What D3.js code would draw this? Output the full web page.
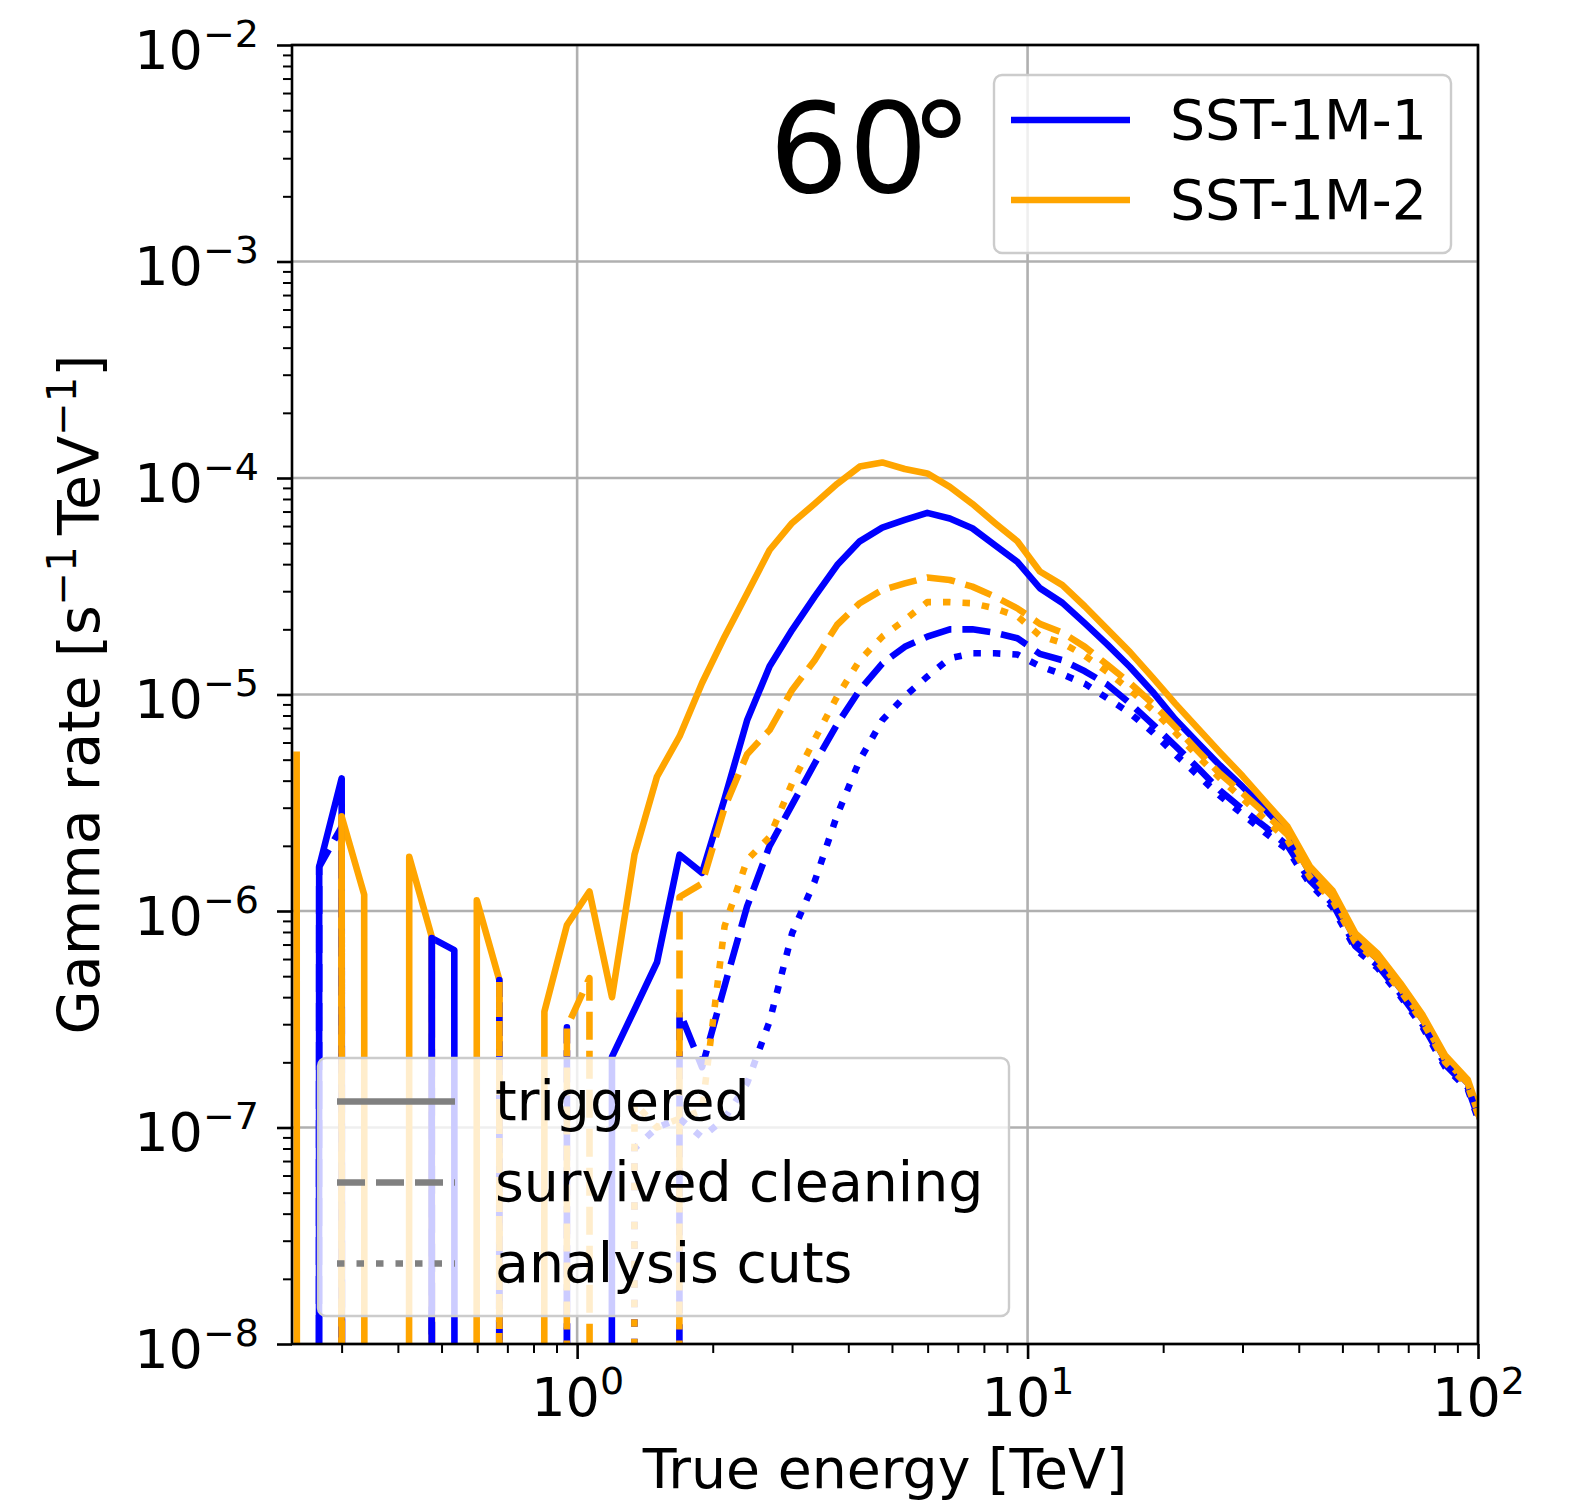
<!DOCTYPE html>
<html>
<head>
<meta charset="utf-8">
<script src="https://cdn.jsdelivr.net/npm/d3@7"></script>
<style>
  body { margin: 0; background: #fff; }
  svg { display: block; }
  text { font-family: "DejaVu Sans", sans-serif; fill: #000; }
</style>
</head>
<body>
<svg id="chart"></svg>
<script>
// bin energies [TeV]
const energy = [
  0.2384, 0.2675, 0.3001, 0.3367, 0.3778, 0.4239, 0.4757, 0.5337, 0.5988, 0.6719,
  0.7539, 0.8459, 0.9491, 1.0649, 1.1949, 1.3407, 1.5043, 1.6878, 1.8938, 2.1249,
  2.3842, 2.6751, 3.0016, 3.3678, 3.7788, 4.2399, 4.7573, 5.3378, 5.9891, 6.7199,
  7.5399, 8.4600, 9.4923, 10.649, 11.949, 13.407, 15.043, 16.878, 18.938, 21.249,
  23.842, 26.751, 30.016, 33.678, 37.788, 42.399, 47.573, 53.378, 59.891, 67.199,
  75.399, 84.600, 94.923, 106.49
];

// gamma rate [s^-1 TeV^-1], 0 = empty bin
const sst1Triggered = [
  0, 1.6e-6, 4.1e-6, 0, 0, 0, 7.5e-7, 6.6e-7, 0, 0,
  0, 0, 0, 0, 2.12e-7, 3.5e-7, 5.8e-7, 1.82e-6, 1.5e-6, 3.3e-6,
  7.6e-6, 1.35e-5, 1.99e-5, 2.83e-5, 3.96e-5, 5.1e-5, 5.9e-5, 6.4e-5, 6.9e-5, 6.5e-5,
  5.86e-5, 4.9e-5, 4.1e-5, 3.1e-5, 2.65e-5, 2.13e-5, 1.7e-5, 1.34e-5, 1.03e-5, 7.7e-6,
  6.0e-6, 4.7e-6, 3.75e-6, 2.95e-6, 2.28e-6, 1.5e-6, 1.17e-6, 7.4e-7, 6.0e-7, 4.4e-7,
  3.15e-7, 2.05e-7, 1.6e-7, 8.0e-8
];
const sst2Triggered = [
  5.45e-6, 0, 2.73e-6, 1.19e-6, 0, 1.78e-6, 7.6e-7, 0, 1.12e-6, 4.8e-7,
  0, 3.43e-7, 8.6e-7, 1.23e-6, 4.0e-7, 1.82e-6, 4.18e-6, 6.4e-6, 1.13e-5, 1.85e-5,
  2.93e-5, 4.65e-5, 6.2e-5, 7.6e-5, 9.4e-5, 1.13e-4, 1.18e-4, 1.1e-4, 1.05e-4, 9.1e-5,
  7.6e-5, 6.2e-5, 5.1e-5, 3.7e-5, 3.2e-5, 2.55e-5, 2.0e-5, 1.57e-5, 1.2e-5, 9.1e-6,
  7.0e-6, 5.4e-6, 4.2e-6, 3.2e-6, 2.45e-6, 1.6e-6, 1.24e-6, 7.9e-7, 6.35e-7, 4.65e-7,
  3.3e-7, 2.15e-7, 1.66e-7, 8.3e-8
];
const sst1Cleaned = [
  0, 1.6e-6, 2.45e-6, 0, 0, 0, 7.5e-7, 0, 0, 4.8e-7,
  0, 0, 2.9e-7, 0, 0, 0, 0, 3.43e-7, 1.9e-7, 4.5e-7,
  1.05e-6, 2.0e-6, 3.1e-6, 4.8e-6, 7.3e-6, 1.05e-5, 1.39e-5, 1.66e-5, 1.85e-5, 2.0e-5,
  2.0e-5, 1.93e-5, 1.82e-5, 1.54e-5, 1.44e-5, 1.28e-5, 1.11e-5, 9.1e-6, 7.3e-6, 5.8e-6,
  4.6e-6, 3.6e-6, 2.95e-6, 2.45e-6, 2.0e-6, 1.38e-6, 1.08e-6, 6.9e-7, 5.6e-7, 4.15e-7,
  2.98e-7, 1.95e-7, 1.53e-7, 7.7e-8
];
const sst2Cleaned = [
  0, 0, 2.73e-6, 0, 0, 0, 0, 0, 0, 4.8e-7,
  0, 0, 2.9e-7, 4.9e-7, 0, 0, 0, 1.16e-6, 1.34e-6, 3.0e-6,
  5.3e-6, 6.85e-6, 1.05e-5, 1.44e-5, 2.1e-5, 2.64e-5, 3.04e-5, 3.26e-5, 3.47e-5, 3.38e-5,
  3.15e-5, 2.83e-5, 2.5e-5, 2.12e-5, 1.93e-5, 1.66e-5, 1.37e-5, 1.13e-5, 9.1e-6, 7.1e-6,
  5.5e-6, 4.3e-6, 3.5e-6, 2.82e-6, 2.25e-6, 1.5e-6, 1.16e-6, 7.4e-7, 6.0e-7, 4.4e-7,
  3.15e-7, 2.05e-7, 1.6e-7, 8.0e-8
];
const sst1Cuts = [
  0, 0, 0, 0, 0, 0, 0, 0, 0, 0,
  0, 0, 0, 0, 0, 8.0e-8, 1.0e-7, 1.1e-7, 9.0e-8, 1.1e-7,
  1.6e-7, 3.1e-7, 7.9e-7, 1.37e-6, 2.78e-6, 4.98e-6, 7.6e-6, 9.8e-6, 1.21e-5, 1.47e-5,
  1.55e-5, 1.55e-5, 1.53e-5, 1.35e-5, 1.24e-5, 1.12e-5, 9.6e-6, 8.2e-6, 6.7e-6, 5.3e-6,
  4.25e-6, 3.4e-6, 2.8e-6, 2.3e-6, 1.92e-6, 1.33e-6, 1.04e-6, 6.7e-7, 5.45e-7, 4.05e-7,
  2.9e-7, 1.9e-7, 1.5e-7, 7.5e-8
];
const sst2Cuts = [
  0, 0, 0, 0, 0, 0, 0, 0, 0, 0,
  0, 0, 0, 0, 0, 1.3e-7, 1.0e-7, 1.1e-7, 1.2e-7, 8.5e-7,
  1.72e-6, 2.2e-6, 3.9e-6, 6.2e-6, 9.8e-6, 1.44e-5, 1.85e-5, 2.21e-5, 2.67e-5, 2.67e-5,
  2.64e-5, 2.5e-5, 2.3e-5, 1.87e-5, 1.73e-5, 1.51e-5, 1.27e-5, 1.05e-5, 8.5e-6, 6.7e-6,
  5.2e-6, 4.1e-6, 3.3e-6, 2.65e-6, 2.12e-6, 1.43e-6, 1.12e-6, 7.2e-7, 5.8e-7, 4.3e-7,
  3.07e-7, 2.0e-7, 1.56e-7, 7.9e-8
];

const telescopes = ["SST-1M-1", "SST-1M-2"];
const stages = ["triggered", "survived cleaning", "analysis cuts"];

const xTicks = [1, 10, 100];
const xTickExp = ["0", "1", "2"];
const yTicks = [1e-8, 1e-7, 1e-6, 1e-5, 1e-4, 1e-3, 1e-2];
const yTickExp = ["\u22128", "\u22127", "\u22126", "\u22125", "\u22124", "\u22123", "\u22122"];

const BLUE = "#0000ff";
const ORANGE = "#ffa500";
const LW = 6.6;
const DASHED = "28,11";
const DOTTED = "7.5,12";

const size = { width: 1584, height: 1507 };
const margin = { top: 45, right: 106, bottom: 163, left: 292 };
const plot = {
  x0: margin.left,
  x1: size.width - margin.right,
  y0: margin.top,
  y1: size.height - margin.bottom
};

const svg = d3
  .select("#chart")
  .attr("width", size.width)
  .attr("height", size.height);

const x = d3
  .scaleLog()
  .domain([0.2328, 100])
  .range([plot.x0, plot.x1]);

const y = d3
  .scaleLog()
  .domain([1e-8, 1e-2])
  .range([plot.y1, plot.y0]);

// minor ticks 2..9 per decade
const xMinor = [];
for (let d = -1; d <= 1; d++) {
  for (let m = 2; m <= 9; m++) {
    const v = m * Math.pow(10, d);
    if (v > 0.2328 && v < 100) xMinor.push(v);
  }
}
const yMinor = [];
for (let d = -8; d <= -3; d++) {
  for (let m = 2; m <= 9; m++) yMinor.push(m * Math.pow(10, d));
}

// grid
const grid = svg.append("g").attr("stroke", "#b0b0b0").attr("stroke-width", 2.6);
xTicks.forEach((v) => {
  grid.append("line")
    .attr("x1", x(v)).attr("x2", x(v))
    .attr("y1", plot.y0).attr("y2", plot.y1);
});
yTicks.forEach((v) => {
  grid.append("line")
    .attr("x1", plot.x0).attr("x2", plot.x1)
    .attr("y1", y(v)).attr("y2", y(v));
});

svg.append("clipPath")
  .attr("id", "plotClip")
  .append("rect")
  .attr("x", plot.x0)
  .attr("y", plot.y0)
  .attr("width", plot.x1 - plot.x0)
  .attr("height", plot.y1 - plot.y0);

const series = [
  { values: sst1Triggered, color: BLUE, dash: null },
  { values: sst2Triggered, color: ORANGE, dash: null },
  { values: sst1Cleaned, color: BLUE, dash: DASHED },
  { values: sst2Cleaned, color: ORANGE, dash: DASHED },
  { values: sst1Cuts, color: BLUE, dash: DOTTED },
  { values: sst2Cuts, color: ORANGE, dash: DOTTED }
];

// empty bins drop off the log axis like matplotlib's clip
const line = d3
  .line()
  .x((d) => x(d.e))
  .y((d) => y(d.v > 0 ? d.v : 1e-300));

const lines = svg.append("g").attr("clip-path", "url(#plotClip)");
series.forEach((s) => {
  const pts = energy.map((e, i) => ({ e: e, v: s.values[i] }));
  lines.append("path")
    .datum(pts)
    .attr("fill", "none")
    .attr("stroke", s.color)
    .attr("stroke-width", LW)
    .attr("stroke-linejoin", "round")
    .attr("stroke-linecap", "butt")
    .attr("stroke-dasharray", s.dash)
    .attr("d", line);
});

// axes
const xAxis = svg.append("g")
  .attr("transform", `translate(0, ${plot.y1})`)
  .call(d3.axisBottom(x).tickValues(xTicks).tickSize(15).tickPadding(14));
svg.append("g")
  .attr("transform", `translate(0, ${plot.y1})`)
  .call(d3.axisBottom(x).tickValues(xMinor).tickSize(9).tickFormat(""))
  .call((g) => g.selectAll("line").attr("stroke-width", 2));

const yAxis = svg.append("g")
  .attr("transform", `translate(${plot.x0}, 0)`)
  .call(d3.axisLeft(y).tickValues(yTicks).tickSize(15).tickPadding(14));
svg.append("g")
  .attr("transform", `translate(${plot.x0}, 0)`)
  .call(d3.axisLeft(y).tickValues(yMinor).tickSize(9).tickFormat(""))
  .call((g) => g.selectAll("line").attr("stroke-width", 2));

svg.selectAll(".domain").remove();
svg.selectAll(".tick line").attr("stroke", "#000");
xAxis.selectAll(".tick line").attr("stroke-width", 2.6);
yAxis.selectAll(".tick line").attr("stroke-width", 2.6);

xAxis.selectAll(".tick text")
  .text(null)
  .attr("font-size", 54)
  .attr("dy", null)
  .attr("y", 72)
  .each(function (d, i) {
    const t = d3.select(this);
    t.append("tspan").text("10");
    t.append("tspan").attr("font-size", 38).attr("dy", -22).text(xTickExp[i]);
  });

yAxis.selectAll(".tick text")
  .text(null)
  .attr("font-size", 54)
  .attr("dy", null)
  .attr("y", 23)
  .attr("x", -33)
  .each(function (d, i) {
    const t = d3.select(this);
    t.append("tspan").text("10");
    t.append("tspan").attr("font-size", 38).attr("dy", -22).text(yTickExp[i]);
  });

// frame
svg.append("rect")
  .attr("x", plot.x0)
  .attr("y", plot.y0)
  .attr("width", plot.x1 - plot.x0)
  .attr("height", plot.y1 - plot.y0)
  .attr("fill", "none")
  .attr("stroke", "#000")
  .attr("stroke-width", 2.6);

// axis labels
svg.append("text")
  .attr("x", (plot.x0 + plot.x1) / 2)
  .attr("y", 1488)
  .attr("text-anchor", "middle")
  .attr("font-size", 55.3)
  .text("True energy [TeV]");

const yl = svg.append("text")
  .attr("transform", `translate(99, ${(plot.y0 + plot.y1) / 2}) rotate(-90)`)
  .attr("text-anchor", "middle")
  .attr("font-size", 57);
yl.append("tspan").text("Gamma rate [s");
yl.append("tspan").attr("font-size", 40).attr("dy", -23).text("\u22121");
yl.append("tspan").attr("dy", 23).text("\u2009TeV");
yl.append("tspan").attr("font-size", 40).attr("dy", -23).text("\u22121");
yl.append("tspan").attr("dy", 23).text("]");

// zenith angle label (degree sign kerned in as in the figure)
svg.append("text")
  .attr("x", 769)
  .attr("y", 192)
  .attr("dx", "0 0 -18")
  .attr("font-family", "'Liberation Sans', Arial, sans-serif")
  .attr("font-size", 125)
  .text("60\u00b0");

// telescope legend
const leg1 = svg.append("g");
leg1.append("rect")
  .attr("x", 994).attr("y", 75).attr("width", 457).attr("height", 178)
  .attr("rx", 8)
  .attr("fill", "#fff").attr("fill-opacity", 0.8)
  .attr("stroke", "#cccccc").attr("stroke-width", 2.4);
telescopes.forEach((name, i) => {
  const ly = 120 + i * 80;
  leg1.append("line")
    .attr("x1", 1011).attr("x2", 1130)
    .attr("y1", ly).attr("y2", ly)
    .attr("stroke", i === 0 ? BLUE : ORANGE)
    .attr("stroke-width", LW);
  leg1.append("text")
    .attr("x", 1170).attr("y", ly + 18.5)
    .attr("font-size", 55.3)
    .text(name);
});

// stage legend
const leg2 = svg.append("g");
leg2.append("rect")
  .attr("x", 318).attr("y", 1058).attr("width", 691).attr("height", 258)
  .attr("rx", 8)
  .attr("fill", "#fff").attr("fill-opacity", 0.8)
  .attr("stroke", "#cccccc").attr("stroke-width", 2.4);
const stageDash = [null, DASHED, DOTTED];
stages.forEach((name, i) => {
  const ly = 1101.5 + i * 81;
  leg2.append("line")
    .attr("x1", 337).attr("x2", 455)
    .attr("y1", ly).attr("y2", ly)
    .attr("stroke", "#808080")
    .attr("stroke-width", LW)
    .attr("stroke-dasharray", stageDash[i]);
  leg2.append("text")
    .attr("x", 495).attr("y", ly + 18.5)
    .attr("font-size", 55.3)
    .text(name);
});
</script>
</body>
</html>
